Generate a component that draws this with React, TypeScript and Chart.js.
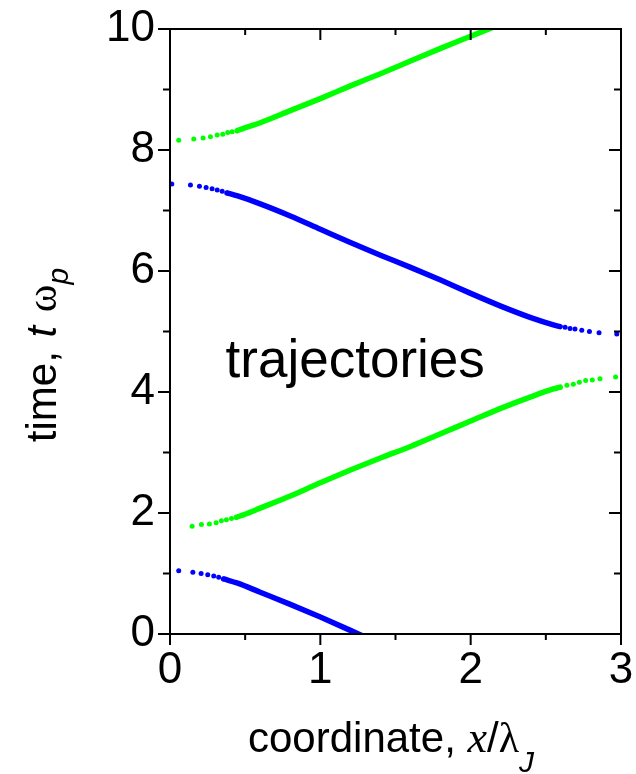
import React, { useEffect, useRef } from 'react';
import { Chart, registerables } from 'chart.js';

Chart.register(...registerables);

// ---------- data ----------
const xTickValues = [0, 1, 2, 3];
const yTickValues = [0, 2, 4, 6, 8, 10];

// blue trajectory, upper branch
const blueUpperDotsX = [0.012, 0.136, 0.196, 0.24, 0.28, 0.314, 0.347, 0.38, 2.628, 2.661, 2.694, 2.739, 2.79, 2.854, 2.972];
const blueUpperDotsY = [7.44, 7.42, 7.4, 7.38, 7.36, 7.34, 7.32, 7.29, 5.07, 5.05, 5.04, 5.02, 5.0, 4.98, 4.96];
const blueUpperLineX = [0.38, 0.45, 0.6, 0.8, 1.0, 1.2, 1.4, 1.6, 1.8, 2.0, 2.2, 2.4, 2.55, 2.595];
const blueUpperLineY = [7.29, 7.24, 7.11, 6.91, 6.69, 6.47, 6.26, 6.06, 5.85, 5.63, 5.42, 5.23, 5.11, 5.08];

// blue trajectory, lower branch
const blueLowerDotsX = [0.058, 0.152, 0.207, 0.251, 0.291, 0.324, 0.357];
const blueLowerDotsY = [1.046, 1.02, 1.0, 0.98, 0.96, 0.94, 0.91];
const blueLowerLineX = [0.357, 0.45, 0.6, 0.8, 1.0, 1.2, 1.28];
const blueLowerLineY = [0.91, 0.84, 0.69, 0.49, 0.28, 0.06, -0.03];

// green trajectory, upper branch
const greenUpperDotsX = [0.058, 0.158, 0.22, 0.269, 0.314, 0.351, 0.384, 0.413, 0.447];
const greenUpperDotsY = [8.16, 8.18, 8.2, 8.22, 8.25, 8.26, 8.29, 8.3, 8.32];
const greenUpperLineX = [0.447, 0.48, 0.6, 0.8, 1.0, 1.2, 1.4, 1.6, 1.8, 2.0, 2.15];
const greenUpperLineY = [8.32, 8.35, 8.45, 8.65, 8.85, 9.06, 9.26, 9.47, 9.68, 9.88, 10.03];

// green trajectory, lower branch
const greenLowerDotsX = [0.147, 0.209, 0.262, 0.307, 0.342, 0.375, 0.409, 0.442, 2.595, 2.64, 2.683, 2.723, 2.765, 2.809, 2.86, 2.964];
const greenLowerDotsY = [1.78, 1.81, 1.82, 1.84, 1.87, 1.89, 1.91, 1.93, 4.08, 4.11, 4.13, 4.16, 4.19, 4.2, 4.22, 4.25];
const greenLowerLineX = [0.442, 0.5, 0.6, 0.8, 1.0, 1.2, 1.4, 1.6, 1.8, 2.0, 2.2, 2.4, 2.55, 2.595];
const greenLowerLineY = [1.93, 1.98, 2.08, 2.28, 2.5, 2.71, 2.91, 3.1, 3.31, 3.52, 3.73, 3.92, 4.05, 4.08];

const annotationText = 'trajectories';
const annotationX = 0.37;
const annotationY = 4.25;

const BLUE = '#0000ff';
const GREEN = '#00ff00';
const SANS = '"Liberation Sans", Arial, sans-serif';
const SERIF = '"Liberation Serif", "Times New Roman", serif';

const toPoints = (xs: number[], ys: number[]) => xs.map((x, i) => ({ x, y: ys[i] }));

const dotSet = (xs: number[], ys: number[], color: string) => ({
  data: toPoints(xs, ys),
  showLine: false,
  pointRadius: 2.5,
  pointBorderWidth: 0,
  pointBackgroundColor: color,
  borderColor: color,
  backgroundColor: color,
});

const lineSet = (xs: number[], ys: number[], color: string) => ({
  data: toPoints(xs, ys),
  showLine: true,
  borderColor: color,
  backgroundColor: color,
  borderWidth: 5.5,
  borderCapStyle: 'round',
  pointRadius: 0,
  cubicInterpolationMode: 'monotone',
  clip: 0,
});

type Run = { text: string; font: string; dy?: number; gap?: number };

function drawRuns(ctx: CanvasRenderingContext2D, runs: Run[], x0: number, y0: number, center: boolean) {
  let total = 0;
  for (const r of runs) {
    ctx.font = r.font;
    total += ctx.measureText(r.text).width + (r.gap || 0);
  }
  let x = center ? x0 - total / 2 : x0;
  for (const r of runs) {
    ctx.font = r.font;
    ctx.fillText(r.text, x, y0 + (r.dy || 0));
    x += ctx.measureText(r.text).width + (r.gap || 0);
  }
}

const framePlugin = {
  id: 'frameTicks',
  afterDraw(chart: any) {
    const { ctx, chartArea } = chart;
    const xs = chart.scales.x;
    const ys = chart.scales.y;
    const { left, right, top, bottom } = chartArea;
    ctx.save();
    ctx.strokeStyle = '#000';
    ctx.lineWidth = 2;
    ctx.lineCap = 'butt';
    ctx.beginPath();
    ctx.moveTo(left - 1, top);
    ctx.lineTo(right + 1, top);
    ctx.moveTo(right, top);
    ctx.lineTo(right, bottom);
    ctx.moveTo(left - 1, bottom);
    ctx.lineTo(right + 1, bottom);
    ctx.moveTo(left, top);
    ctx.lineTo(left, bottom);
    // x ticks every 0.5
    for (let v = 0; v <= 3.0001; v += 0.5) {
      const px = xs.getPixelForValue(v);
      const major = Math.abs(v - Math.round(v)) < 1e-6;
      const len = major ? 11 : 6;
      ctx.moveTo(px, bottom);
      ctx.lineTo(px, bottom + len);
      ctx.moveTo(px, top);
      ctx.lineTo(px, top + len);
    }
    // y ticks every 1
    for (let v = 0; v <= 10; v += 1) {
      const py = ys.getPixelForValue(v);
      const major = v % 2 === 0;
      const len = major ? 12 : 7;
      ctx.moveTo(left, py);
      ctx.lineTo(left - len, py);
      ctx.moveTo(right, py);
      ctx.lineTo(right - len, py);
    }
    ctx.stroke();

    ctx.fillStyle = '#000';
    ctx.textBaseline = 'alphabetic';
    ctx.textAlign = 'left';

    // annotation
    ctx.font = `53px ${SANS}`;
    ctx.fillText(annotationText, xs.getPixelForValue(annotationX), ys.getPixelForValue(annotationY));

    // x title
    drawRuns(
      ctx,
      [
        { text: 'coordinate, ', font: `42px ${SANS}` },
        { text: 'x', font: `italic 44px ${SERIF}` },
        { text: '/', font: `42px ${SANS}` },
        { text: 'λ', font: `42px ${SERIF}` },
        { text: 'J', font: `italic 30px ${SANS}`, dy: 20 },
      ],
      248,
      752,
      false
    );

    // y title (rotated)
    ctx.translate(56, 355);
    ctx.rotate(-Math.PI / 2);
    drawRuns(
      ctx,
      [
        { text: 'time, ', font: `42px ${SANS}`, gap: 2 },
        { text: 't', font: `italic 42px ${SANS}` },
        { text: ' ', font: `42px ${SANS}`, gap: 2 },
        { text: 'ω', font: `42px ${SERIF}` },
        { text: 'p', font: `italic 30px ${SANS}`, dy: 12 },
      ],
      0,
      0,
      true
    );
    ctx.restore();
  },
};

export default function App() {
  const ref = useRef<HTMLCanvasElement | null>(null);

  useEffect(() => {
    document.body.style.margin = '0';
    const canvas = ref.current;
    if (!canvas) return;
    const chart = new Chart(canvas, {
      type: 'scatter',
      data: {
        datasets: [
          dotSet(blueUpperDotsX, blueUpperDotsY, BLUE),
          lineSet(blueUpperLineX, blueUpperLineY, BLUE),
          dotSet(blueLowerDotsX, blueLowerDotsY, BLUE),
          lineSet(blueLowerLineX, blueLowerLineY, BLUE),
          dotSet(greenUpperDotsX, greenUpperDotsY, GREEN),
          lineSet(greenUpperLineX, greenUpperLineY, GREEN),
          dotSet(greenLowerDotsX, greenLowerDotsY, GREEN),
          lineSet(greenLowerLineX, greenLowerLineY, GREEN),
        ] as any,
      },
      options: {
        responsive: false,
        animation: false,
        devicePixelRatio: 1,
        layout: { padding: { left: 0, top: 29, right: 15, bottom: 0 } },
        plugins: { legend: { display: false }, tooltip: { enabled: false } },
        scales: {
          x: {
            type: 'linear',
            min: 0,
            max: 3,
            afterBuildTicks: (s: any) => {
              s.ticks = xTickValues.map((v) => ({ value: v }));
            },
            afterFit: (s: any) => {
              s.height = 140;
              s.paddingLeft = 0;
              s.paddingRight = 0;
              s.paddingTop = 0;
              s.paddingBottom = 0;
            },
            grid: { display: false, drawTicks: false, tickLength: 0 },
            border: { display: false },
            ticks: {
              color: '#000',
              padding: 10,
              maxRotation: 0,
              font: { family: SANS, size: 44 },
              callback: (v: any) => String(v),
            },
          },
          y: {
            type: 'linear',
            min: 0,
            max: 10,
            afterBuildTicks: (s: any) => {
              s.ticks = yTickValues.map((v) => ({ value: v }));
            },
            afterFit: (s: any) => {
              s.width = 170;
              s.paddingLeft = 0;
              s.paddingRight = 0;
              s.paddingTop = 0;
              s.paddingBottom = 0;
            },
            grid: { display: false, drawTicks: false, tickLength: 0 },
            border: { display: false },
            ticks: {
              color: '#000',
              padding: 15,
              font: { family: SANS, size: 44 },
              callback: (v: any) => String(v),
            },
          },
        },
      },
      plugins: [framePlugin],
    });
    return () => chart.destroy();
  }, []);

  return (
    <div style={{ width: 636, height: 774 }}>
      <canvas ref={ref} width={636} height={774} style={{ display: 'block' }} />
    </div>
  );
}
